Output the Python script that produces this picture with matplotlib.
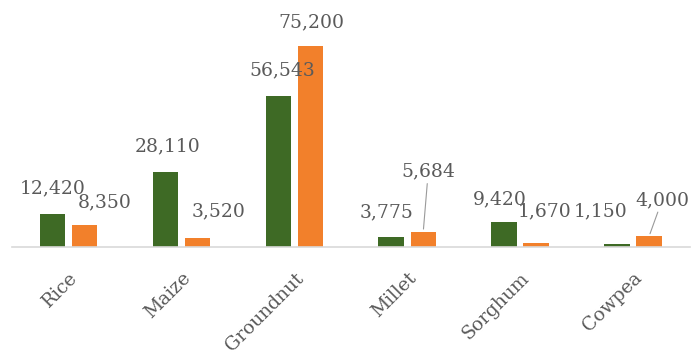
import matplotlib.pyplot as plt
import numpy as np

crops = ["Rice", "Maize", "Groundnut", "Millet", "Sorghum", "Cowpea"]
green_vals = [12420, 28110, 56543, 3775, 9420, 1150]
orange_vals = [8350, 3520, 75200, 5684, 1670, 4000]

# label offsets (pixels, from bar top centre) and whether a leader line is drawn
green_offsets = [(0, 25), (2, 26), (4, 26), (-5, 25), (-4, 22), (-16, 33)]
orange_offsets = [(20, 22), (21, 26), (1, 24), (5, 60), (8, 31), (13, 36)]
orange_leader = [False, False, False, True, False, True]

GREEN = "#3e6a25"
ORANGE = "#f2802b"
TEXT = "#5a5a5a"
FONT = "DejaVu Serif"

fig = plt.figure(figsize=(6.94, 3.55), dpi=100)
ax = fig.add_axes([12 / 694, 108 / 355, 677.5 / 694, 247 / 355])

x = np.arange(len(crops))
w = 0.225
off = 0.142
bg = ax.bar(x - off, green_vals, w, color=GREEN)
bo = ax.bar(x + off, orange_vals, w, color=ORANGE)

ax.set_xlim(-0.5, len(crops) - 0.5)
ax.set_ylim(0, 92500)

pt = 72 / fig.dpi


def label(bars, vals, offsets, leaders=None):
    for i, (b, v) in enumerate(zip(bars, vals)):
        dx, dy = offsets[i]
        cx = b.get_x() + b.get_width() / 2
        kw = {}
        if leaders is not None and leaders[i]:
            kw["arrowprops"] = dict(arrowstyle="-", color="#9a9a9a", lw=0.8,
                                    shrinkA=0, shrinkB=2)
        ax.annotate(f"{v:,}", xy=(cx, v), xytext=(dx * pt, dy * pt),
                    textcoords="offset points", ha="center", va="center",
                    fontsize=13.5, family=FONT, color=TEXT, **kw)


label(bg, green_vals, green_offsets)
label(bo, orange_vals, orange_offsets, orange_leader)

ax.set_xticks(x, crops)
ax.tick_params(axis="x", length=0, pad=16, labelsize=13.5, labelcolor=TEXT,
               labelrotation=45)
for t in ax.get_xticklabels():
    t.set_family(FONT)
    t.set_ha("right")
    t.set_rotation_mode("anchor")
ax.set_yticks([])
for s in ["top", "right", "left"]:
    ax.spines[s].set_visible(False)
ax.spines["bottom"].set_color("#d9d9d9")
ax.spines["bottom"].set_linewidth(1.2)

fig.savefig("out.png", dpi=100)
